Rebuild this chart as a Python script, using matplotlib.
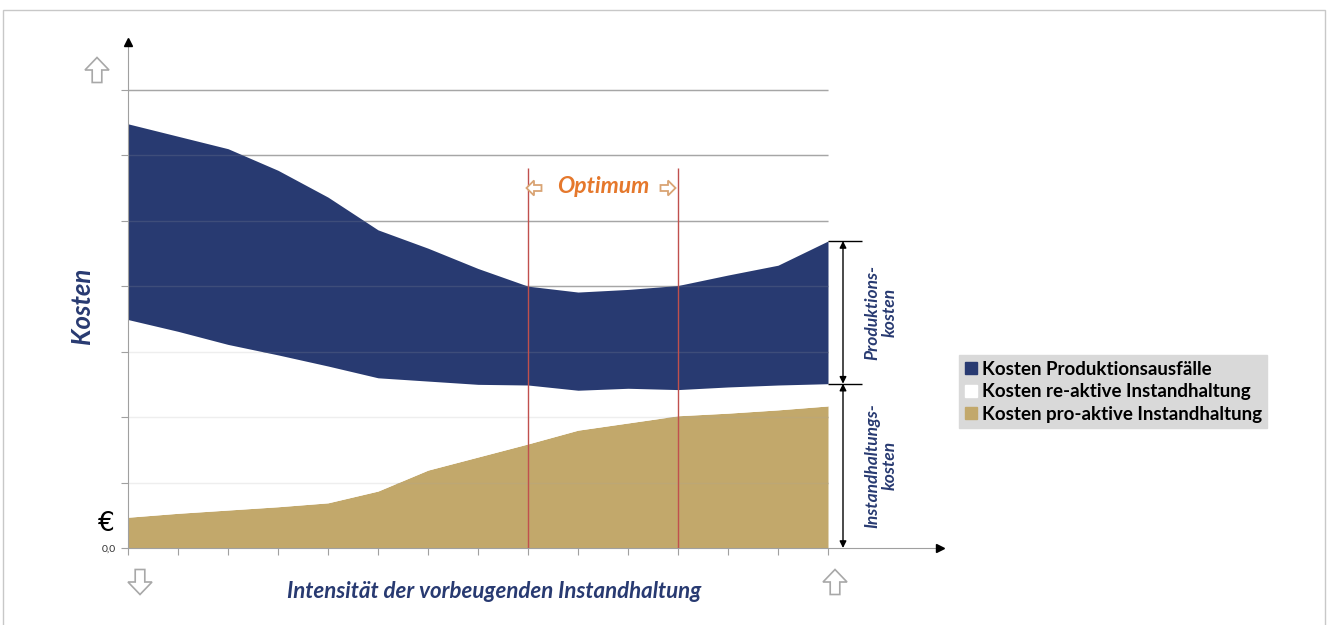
import numpy as np
import matplotlib.pyplot as plt
from matplotlib.lines import Line2D
from matplotlib.patches import Rectangle, Polygon

# Stacked cost values
steps = list(range(15))
pro_aktiv = [0.47, 0.53, 0.58, 0.63, 0.69, 0.87, 1.19, 1.39, 1.59, 1.80, 1.91, 2.02, 2.06, 2.11, 2.17]
re_aktiv = [3.02, 2.78, 2.53, 2.32, 2.09, 1.73, 1.36, 1.11, 0.90, 0.61, 0.53, 0.40, 0.40, 0.38, 0.34]
produktion = [2.99, 2.98, 2.99, 2.82, 2.58, 2.26, 2.03, 1.77, 1.51, 1.50, 1.51, 1.59, 1.71, 1.83, 2.18]
optimum = [8, 11]

labels = ['Kosten Produktionsausfälle', 'Kosten re-aktive Instandhaltung', 'Kosten pro-aktive Instandhaltung']
navy = '#283a71'
tan = '#c2a86b'
orange = '#e5782c'

plt.rcParams['font.family'] = ['Lato', 'DejaVu Sans']

W, H = 1330, 625
fig = plt.figure(figsize=(13.3, 6.25), dpi=100)
ax = fig.add_axes([128 / W, 1 - 548 / H, (940 - 128) / W, (548 - 42) / H])


def block_arrow(cx, cy, w, h, direction, color, lw=1.2):
    # outlined block arrow, placed in pixel coords of the figure
    pts = np.array([[0, 0.5], [0.5, 0.0], [0.2, 0.0], [0.2, -0.5],
                    [-0.2, -0.5], [-0.2, 0.0], [-0.5, 0.0]])
    if direction == 'down':
        pts[:, 1] = -pts[:, 1]
    elif direction == 'left':
        pts = np.column_stack([-pts[:, 1], pts[:, 0]])
    elif direction == 'right':
        pts = np.column_stack([pts[:, 1], pts[:, 0]])
    px = cx + pts[:, 0] * w
    py = cy - pts[:, 1] * h
    poly = Polygon(np.column_stack([px / W, 1 - py / H]), closed=True, facecolor='white',
                   edgecolor=color, lw=lw, transform=fig.transFigure, zorder=6)
    fig.patches.append(poly)


x = np.array(steps)
b1 = np.array(pro_aktiv)
b2 = b1 + np.array(re_aktiv)
b3 = b2 + np.array(produktion)

ymax = 7.73
ax.set_xlim(0, 16.24)
ax.set_ylim(0, ymax)

# gridlines behind the areas, and faint ones on top of them
ax.hlines(range(1, 8), 0, x[-1], color='#a6a6a6', lw=1, zorder=1)
ax.fill_between(x, 0, b1, color=tan, lw=0, zorder=2)
ax.fill_between(x, b1, b2, color='white', lw=0, zorder=2)
ax.fill_between(x, b2, b3, color=navy, lw=0, zorder=2)
ax.hlines(range(1, 8), 0, x[-1], color='#a6a6a6', lw=1, alpha=0.18, zorder=2.5)

# optimum range
ax.vlines(optimum, 0, 5.8, color='#c0504d', lw=1, zorder=3)
mid = (optimum[0] + optimum[1]) / 2
ax.text(mid, 5.53, 'Optimum', color=orange, fontsize=16.5, fontweight='bold',
        style='italic', ha='center', va='center')
block_arrow(534, 188, 15, 15, 'left', '#d9a474', lw=1.3)
block_arrow(668, 188, 15, 15, 'right', '#d9a474', lw=1.3)

# axes look
for s in ['top', 'right']:
    ax.spines[s].set_visible(False)
for s in ['left', 'bottom']:
    ax.spines[s].set_color('#a0a0a0')
ax.set_xticks(steps)
ax.set_xticklabels([])
ax.set_yticks(range(0, 8))
ax.set_yticklabels(['0,0'] + [''] * 7)
ax.tick_params(axis='both', colors='#a0a0a0', length=5, labelsize=7.5, labelcolor='#333333')
ax.plot(0, ymax, marker='^', color='black', markersize=6, clip_on=False, zorder=5)
ax.plot(16.24, 0, marker='>', color='black', markersize=6, clip_on=False, zorder=5)

# brackets on the right
xb = 14.3
ax.hlines([b3[-1], b2[-1]], x[-1], 14.68, color='black', lw=1, clip_on=False)
ax.annotate('', xy=(xb, b3[-1]), xytext=(xb, b2[-1]),
            arrowprops=dict(arrowstyle='<|-|>', color='black', lw=1, shrinkA=0, shrinkB=0,
                            mutation_scale=10))
ax.annotate('', xy=(xb, b2[-1]), xytext=(xb, 0),
            arrowprops=dict(arrowstyle='<|-|>', color='black', lw=1, shrinkA=0, shrinkB=0,
                            mutation_scale=10))
ax.text(15.06, (b3[-1] + b2[-1]) / 2, 'Produktions-\nkosten', rotation=90, color=navy,
        fontsize=12.5, style='italic', fontweight='bold', ha='center', va='center', linespacing=1.15)
ax.text(15.06, b2[-1] / 2, 'Instandhaltungs-\nkosten', rotation=90, color=navy,
        fontsize=12.5, style='italic', fontweight='bold', ha='center', va='center', linespacing=1.15)

# labels and decorations
fig.text(82 / W, 1 - 306 / H, 'Kosten', rotation=90, color=navy, fontsize=18.5,
         fontweight='bold', style='italic', ha='center', va='center')
fig.text(494 / W, 1 - 592 / H, 'Intensität der vorbeugenden Instandhaltung', color=navy,
         fontsize=16, fontweight='bold', style='italic', ha='center', va='center')
fig.text(106 / W, 1 - 524 / H, '€', color='black', fontsize=19, ha='center', va='center',
         family='DejaVu Sans')
block_arrow(97, 70, 24, 25, 'up', '#a8a8a8')
block_arrow(140, 582, 24, 25, 'down', '#a8a8a8')
block_arrow(835, 582, 24, 25, 'up', '#a8a8a8')

handles = [Line2D([], [], marker='s', ls='none', color=navy, markersize=8),
           Line2D([], [], marker='s', ls='none', color='white', markersize=8),
           Line2D([], [], marker='s', ls='none', color=tan, markersize=8)]
leg = fig.legend(handles, labels, loc='upper left', bbox_to_anchor=(959 / W, 1 - 355 / H),
                 frameon=True, fancybox=False, facecolor='#d9d9d9', edgecolor='#d9d9d9',
                 framealpha=1, handlelength=0.7, handletextpad=0.2, borderpad=0.3,
                 borderaxespad=0, labelspacing=0.3, prop={'weight': 'bold', 'size': 13.5})

# outer frame
fig.patches.append(Rectangle((3 / W, -0.01), 1322 / W, 1 - 10 / H + 0.01,
                             transform=fig.transFigure, fill=False, edgecolor='#c8c8c8', lw=1))

fig.savefig('out.png', dpi=100)
